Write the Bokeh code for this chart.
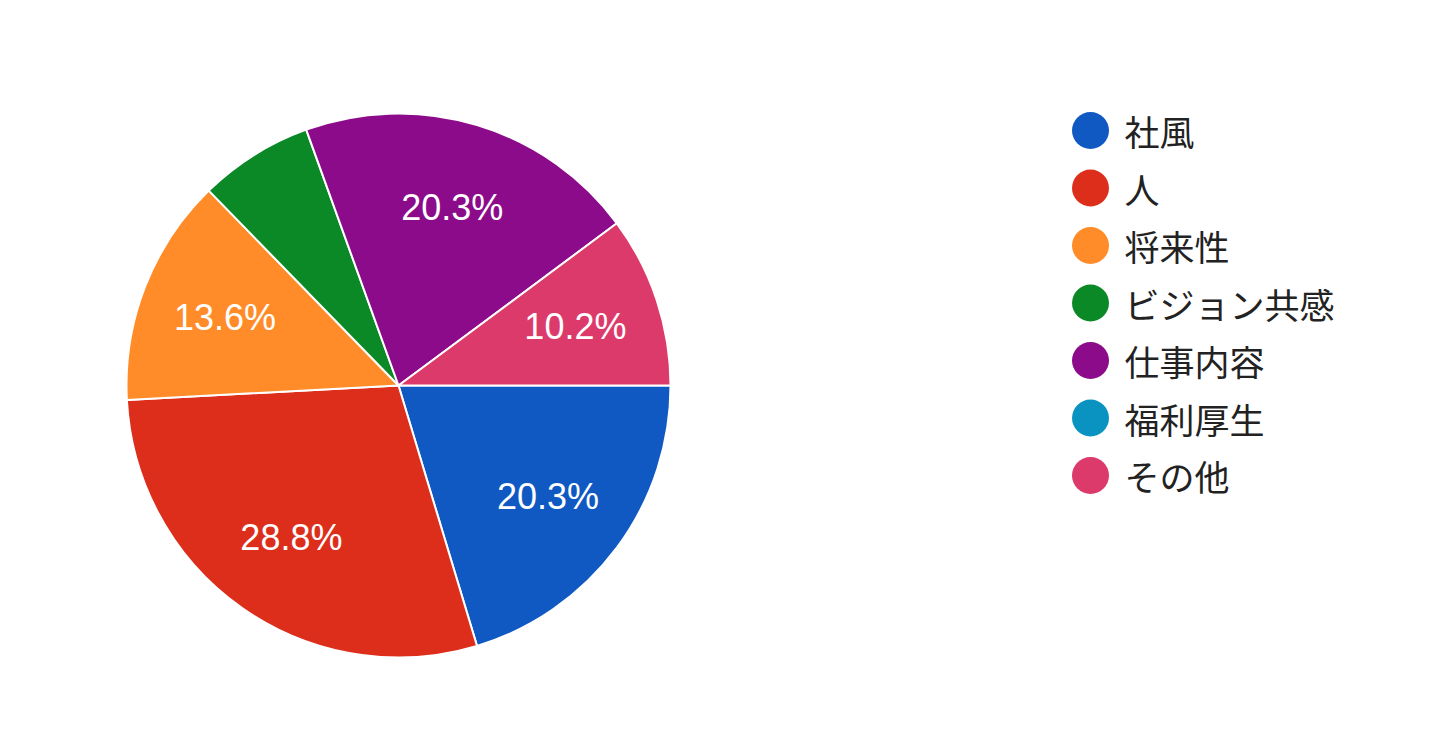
import numpy as np
from bokeh.plotting import figure
from bokeh.models import Range1d, ColumnDataSource
from bokeh.core.properties import value
from bokeh.embed import file_html
from bokeh.resources import INLINE

# ---- data ----
categories = ["社風", "人", "将来性", "ビジョン共感", "仕事内容", "福利厚生", "その他"]
counts = [12, 17, 8, 4, 12, 0, 6]
colors = ["#1059C2", "#DC2E1B", "#FF8C28", "#0B8927", "#8C0B8A", "#0A93C0", "#DC3A6B"]

# ---- layout (screen pixels) ----
W, H = 1424, 723
PAGE_H = 739
cx, cy_screen, R = 398, 385, 272
cy = PAGE_H - cy_screen
label_frac = 0.685

p = figure(width=W, height=H, output_backend="svg", toolbar_location=None,
           x_range=Range1d(0, W), y_range=Range1d(PAGE_H - H, PAGE_H),
           min_border=0, outline_line_color=None, background_fill_color="white")
p.axis.visible = False
p.grid.visible = False

vals = np.array(counts, dtype=float)
total = vals.sum()
frac = vals / total
cum_end = np.cumsum(frac)
cum_start = cum_end - frac

# Slices clockwise from 3 o'clock
start_angle = -cum_end * 2 * np.pi
end_angle = -cum_start * 2 * np.pi
keep = vals > 0
src = ColumnDataSource(dict(
    start=start_angle[keep], end=end_angle[keep],
    color=[c for c, k in zip(colors, keep) if k],
    x=[cx] * int(keep.sum()), y=[cy] * int(keep.sum()),
))
p.wedge(x="x", y="y", radius=R, start_angle="start", end_angle="end",
        fill_color="color", line_color="white", line_width=2, source=src)

# Percentage labels (shown on larger slices)
mid = -(cum_start + frac / 2) * 2 * np.pi
show = frac >= 0.08
lsrc = ColumnDataSource(dict(
    x=(cx + label_frac * R * np.cos(mid))[show],
    y=(cy + label_frac * R * np.sin(mid))[show],
    t=[f"{f * 100:.1f}%" for f in frac[show]],
))
p.text(x="x", y="y", text="t", source=lsrc, text_color="white",
       text_font=value("Liberation Sans"), text_font_size="36px",
       text_align="center", text_baseline="middle")

# Legend
leg_x, leg_y0, leg_dy = 1090, 130, 57.5
idx = np.arange(len(categories))
gsrc = ColumnDataSource(dict(
    x=[leg_x] * len(categories),
    y=PAGE_H - (leg_y0 + leg_dy * idx),
    tx=[leg_x + 34] * len(categories),
    color=colors, label=categories,
))
p.scatter(x="x", y="y", size=37, marker="circle", fill_color="color",
          line_color=None, source=gsrc)
p.text(x="tx", y="y", text="label", source=gsrc, text_color="#222222",
       text_font=value("Noto Sans CJK JP"), text_font_size="35px",
       text_align="left", text_baseline="middle")

open("out.html", "w").write(file_html(p, INLINE))
